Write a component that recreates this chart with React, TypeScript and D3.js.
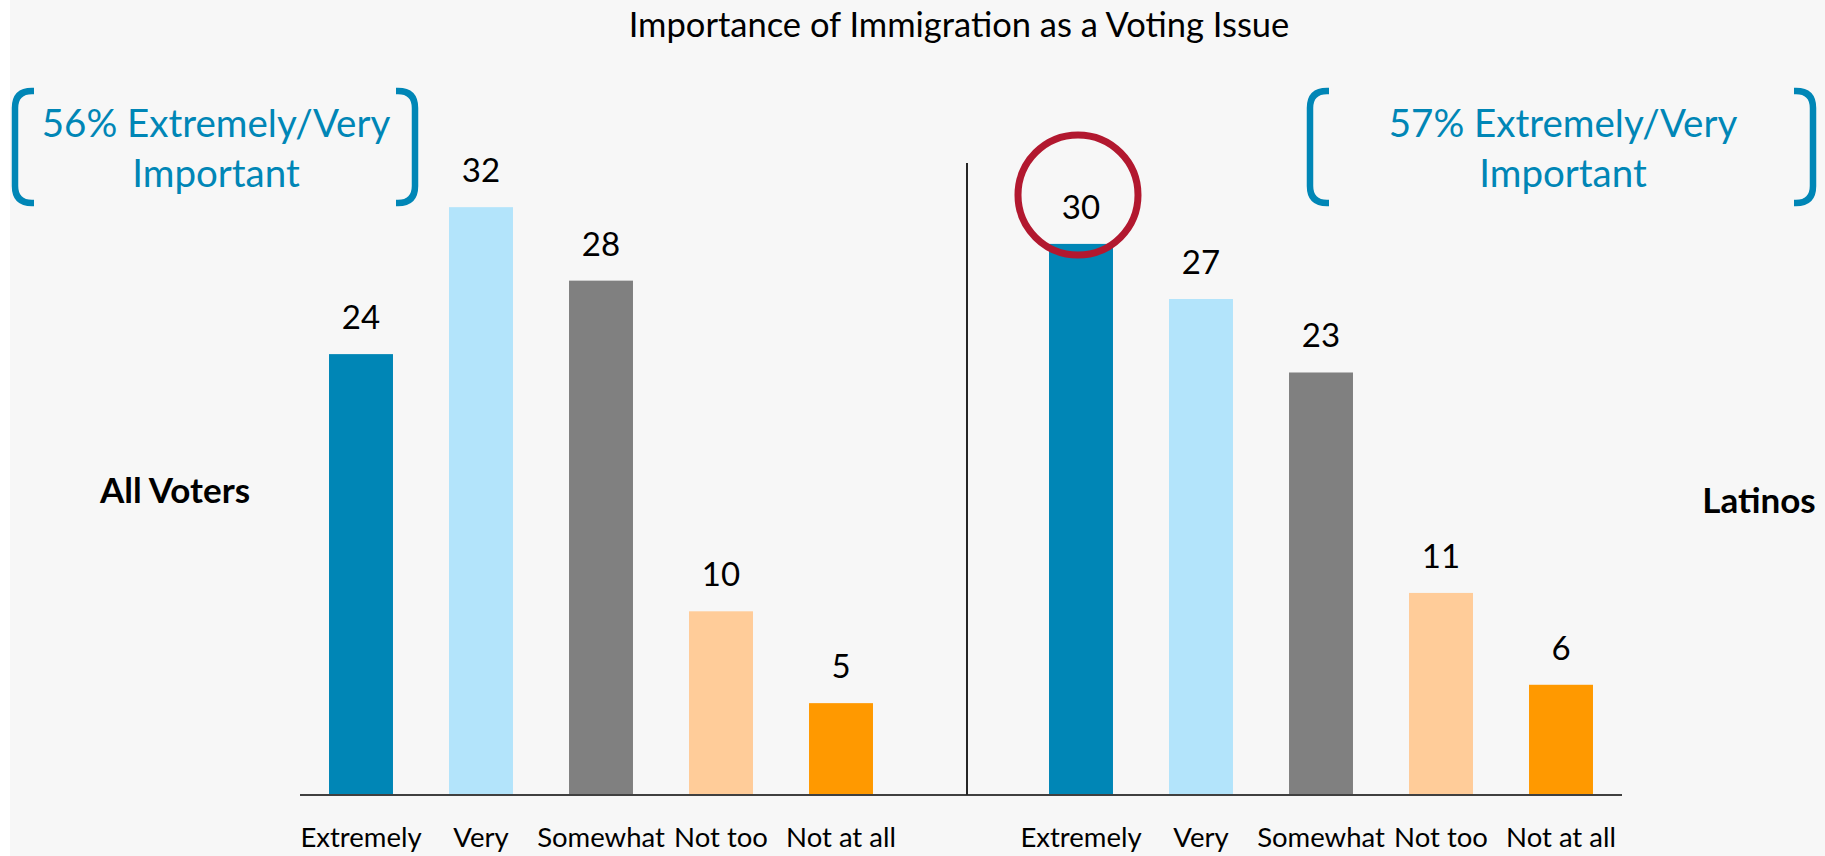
import React from "react";
import * as d3 from "d3";

const title = "Importance of Immigration as a Voting Issue";
const categories = ["Extremely", "Very", "Somewhat", "Not too", "Not at all"];
const allVoters = [24, 32, 28, 10, 5];
const latinos = [30, 27, 23, 11, 6];
const groupNames = ["All Voters", "Latinos"];
const summaryLines = [
  ["56% Extremely/Very", "Important"],
  ["57% Extremely/Very", "Important"],
];
const highlightIndex = 0; // Latinos "Extremely"

const barColors = ["#0086B6", "#B3E4FB", "#808080", "#FFCC99", "#FF9900"];
const FONT = "Lato, 'Open Sans', 'Noto Sans', sans-serif";

const W = 1825;
const H = 856;
const baseY = 795;

export default function App() {
  const y = d3.scaleLinear().domain([0, 32]).range([baseY, baseY - 32 * 18.37]);
  const xLeft = d3
    .scaleBand<string>()
    .domain(categories)
    .range([301, 901])
    .paddingInner(0.467)
    .paddingOuter(0.2335);
  const xRight = d3
    .scaleBand<string>()
    .domain(categories)
    .range([1021, 1621])
    .paddingInner(0.467)
    .paddingOuter(0.2335);

  const panels = [
    { x: xLeft, values: allVoters, axis: [300, 967] },
    { x: xRight, values: latinos, axis: [967, 1622] },
  ];

  const bracket = (x0: number, top: number, bottom: number, dir: number) => {
    const r = 17;
    const w = 19 * dir;
    const rr = r * dir;
    return `M${x0 + w},${top} L${x0 + rr},${top} Q${x0},${top} ${x0},${top + r} L${x0},${bottom - r} Q${x0},${bottom} ${x0 + rr},${bottom} L${x0 + w},${bottom}`;
  };

  const annotations = [
    { cx: 216, left: 15, right: 415 },
    { cx: 1563, left: 1310, right: 1813 },
  ];

  const hx = xRight(categories[highlightIndex])! + xRight.bandwidth() / 2 - 3;

  return (
    <svg
      width={W}
      height={H}
      style={{ position: "absolute", left: 0, top: 0, display: "block" }}
      fontFamily={FONT}
    >
      <rect x={0} y={0} width={W} height={H} fill="#ffffff" />
      <rect x={10} y={0} width={W - 10} height={H} fill="#F7F7F7" />

      <text x={959} y={37} textAnchor="middle" fontSize={34.5} fill="#000">
        {title}
      </text>

      {annotations.map((a, i) => (
        <g key={"ann" + i}>
          <path d={bracket(a.left, 91, 203, 1)} fill="none" stroke="#0086B6" strokeWidth={6.5} strokeLinecap="butt" />
          <path d={bracket(a.right, 91, 203, -1)} fill="none" stroke="#0086B6" strokeWidth={6.5} strokeLinecap="butt" />
          <text x={a.cx} y={137} textAnchor="middle" fontSize={38.5} fill="#0086B6">
            {summaryLines[i][0]}
          </text>
          <text x={a.cx} y={187} textAnchor="middle" fontSize={38.5} fill="#0086B6">
            {summaryLines[i][1]}
          </text>
        </g>
      ))}

      <text x={175} y={503} textAnchor="middle" fontSize={35} fontWeight="bold" fill="#000">
        {groupNames[0]}
      </text>
      <text x={1759} y={513} textAnchor="middle" fontSize={35} fontWeight="bold" fill="#000">
        {groupNames[1]}
      </text>

      {panels.map((p, pi) => (
        <g key={"panel" + pi}>
          {categories.map((c, i) => (
            <rect
              key={c}
              x={p.x(c)}
              y={y(p.values[i])}
              width={p.x.bandwidth()}
              height={baseY - y(p.values[i])}
              fill={barColors[i]}
            />
          ))}
          {categories.map((c, i) => (
            <text
              key={"v" + c}
              x={p.x(c)! + p.x.bandwidth() / 2}
              y={y(p.values[i]) - 25}
              textAnchor="middle"
              fontSize={33}
              fill="#000"
            >
              {p.values[i]}
            </text>
          ))}
          {categories.map((c) => (
            <text
              key={"c" + c}
              x={p.x(c)! + p.x.bandwidth() / 2}
              y={847}
              textAnchor="middle"
              fontSize={27.5}
              fill="#000"
            >
              {c}
            </text>
          ))}
          <line x1={p.axis[0]} x2={p.axis[1]} y1={baseY} y2={baseY} stroke="#404040" strokeWidth={2} />
        </g>
      ))}

      <line x1={967} x2={967} y1={163} y2={baseY} stroke="#262626" strokeWidth={2} />

      <circle cx={hx} cy={195} r={60} fill="none" stroke="#B2182F" strokeWidth={7} />
    </svg>
  );
}
